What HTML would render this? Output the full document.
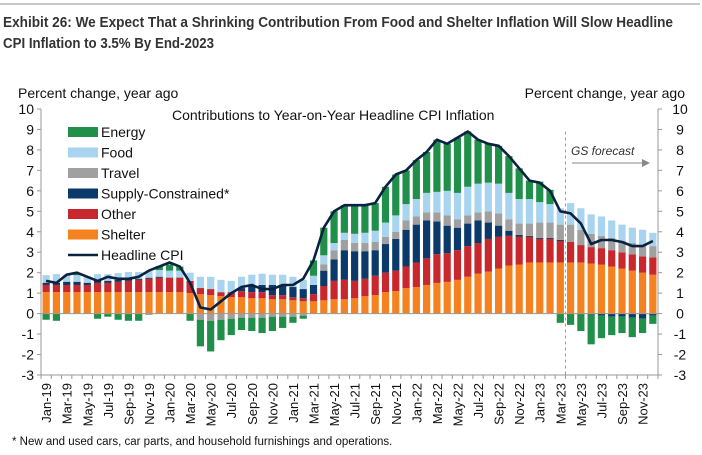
<!DOCTYPE html>
<html><head><meta charset="utf-8"><style>
body{margin:0;background:#fff;width:702px;height:450px;overflow:hidden;font-family:"Liberation Sans",sans-serif}
svg text{font-family:"Liberation Sans",sans-serif}
</style></head><body>
<svg id="c" width="702" height="450" viewBox="0 0 702 450">
<line x1="0" y1="4" x2="700" y2="4" stroke="#c8c8c8" stroke-width="2"/>
<text x="3" y="27" font-size="14.5" font-weight="bold" fill="#333" textLength="670" lengthAdjust="spacingAndGlyphs">Exhibit 26: We Expect That a Shrinking Contribution From Food and Shelter Inflation Will Slow Headline</text>
<text x="3" y="48" font-size="14.5" font-weight="bold" fill="#333" textLength="211" lengthAdjust="spacingAndGlyphs">CPI Inflation to 3.5% By End-2023</text>
<text x="18" y="98" font-size="14" fill="#111">Percent change, year ago</text>
<text x="685" y="98" font-size="14" fill="#111" text-anchor="end">Percent change, year ago</text>
<text x="172" y="120" font-size="14" fill="#111">Contributions to Year-on-Year Headline CPI Inflation</text>
<g id="bars"></g><g id="axes"></g>
<text x="571" y="155" font-size="12" font-style="italic" fill="#333">GS forecast</text>
<line x1="572" y1="163" x2="642" y2="163" stroke="#888" stroke-width="1"/>
<polygon points="642,159 650,163 642,167" fill="#888"/>
<g id="legend"></g>
<text x="12" y="445" font-size="11.5" fill="#111">* New and used cars, car parts, and household furnishings and operations.</text>
</svg>
<script>
const months=["Jan","Feb","Mar","Apr","May","Jun","Jul","Aug","Sep","Oct","Nov","Dec"];
const years=["19","20","21","22","23"];
const shelter=[1.05,1.05,1.05,1.05,1.05,1.05,1.05,1.05,1.05,1.05,1.05,1.05, 1.05,1.05,1.0,0.95,0.9,0.85,0.8,0.8,0.75,0.75,0.7,0.7, 0.65,0.6,0.6,0.65,0.7,0.7,0.75,0.85,0.9,1.05,1.1,1.25, 1.3,1.4,1.5,1.55,1.65,1.8,1.95,2.05,2.2,2.35,2.4,2.5, 2.5,2.5,2.5,2.5,2.5,2.45,2.4,2.3,2.2,2.1,2.0,1.9];
const other=[0.35,0.35,0.35,0.35,0.35,0.45,0.45,0.5,0.55,0.6,0.65,0.7, 0.7,0.7,0.6,0.3,0.3,0.2,0.25,0.3,0.3,0.3,0.2,0.2, 0.15,0.15,0.35,0.7,0.9,0.95,0.85,0.85,0.95,0.95,1.0,1.05, 1.2,1.3,1.4,1.4,1.45,1.5,1.5,1.6,1.55,1.45,1.35,1.25, 1.15,1.15,1.05,1.0,0.85,0.8,0.8,0.8,0.8,0.8,0.8,0.85];
const supply=[0.1,0.1,0.15,0.15,0.1,0.1,0.1,0.1,0.1,0.05,0.05,0.05, 0,0,0,0,0,0,0,0.15,0.3,0.35,0.5,0.5, 0.5,0.45,0.45,0.75,1.05,1.45,1.45,1.35,1.25,1.4,1.55,1.8, 1.85,1.85,1.6,1.35,1.1,1.1,1.1,0.8,0.55,0.25,0.1,0.05, 0.05,0.05,0.05,0,0,-0.05,-0.1,-0.15,-0.15,-0.2,-0.25,-0.1];
const travel=[0.03,0.03,0.03,0.03,0.03,0.03,0.03,0.03,0.03,0.03,0.03,0.03, 0.05,0.05,0,-0.3,-0.35,-0.3,-0.25,-0.2,-0.2,-0.2,-0.15,-0.15, -0.15,-0.1,0,0.3,0.45,0.5,0.4,0.4,0.4,0.35,0.35,0.45, 0.4,0.4,0.45,0.5,0.4,0.4,0.4,0.55,0.6,0.55,0.55,0.6, 0.75,0.75,0.75,0.85,0.75,0.65,0.6,0.6,0.55,0.55,0.55,0.55];
const food=[0.35,0.4,0.3,0.3,0.3,0.3,0.3,0.3,0.3,0.3,0.3,0.3, 0.3,0.3,0.4,0.55,0.6,0.6,0.55,0.55,0.55,0.55,0.5,0.5, 0.5,0.45,0.45,0.45,0.35,0.35,0.45,0.5,0.55,0.7,0.8,0.8, 0.85,0.95,1.0,1.2,1.3,1.4,1.4,1.4,1.45,1.3,1.2,1.2, 1.0,0.9,0.8,1.05,1.05,0.95,0.95,0.85,0.8,0.75,0.75,0.65];
const energy=[-0.3,-0.35,0,0.1,0,-0.25,-0.15,-0.3,-0.35,-0.35,-0.05,0.2, 0.3,0.2,-0.35,-1.3,-1.5,-1.0,-0.8,-0.6,-0.65,-0.75,-0.7,-0.55, -0.3,-0.15,0.75,1.35,1.55,1.35,1.4,1.35,1.35,1.75,2.0,1.65, 1.9,2.0,2.55,2.3,2.7,2.7,2.15,1.9,1.85,1.8,1.5,0.9, 1.0,0.7,-0.45,-0.55,-0.85,-1.45,-1.1,-0.9,-0.8,-0.95,-0.7,-0.4];
const headline=[1.6,1.5,1.9,2.0,1.8,1.6,1.8,1.7,1.7,1.8,2.1,2.3, 2.5,2.3,1.5,0.3,0.2,0.6,1.0,1.3,1.4,1.2,1.2,1.4, 1.4,1.7,2.6,4.2,5.0,5.3,5.3,5.3,5.4,6.2,6.8,7.0, 7.5,7.9,8.5,8.3,8.6,8.9,8.5,8.3,8.2,7.7,7.1,6.5, 6.4,6.0,5.0,4.9,4.4,3.4,3.6,3.6,3.5,3.3,3.3,3.55];
const yTicks=[10,9,8,7,6,5,4,3,2,1,0,-1,-2,-3];
const forecastStart=51;

const NS="http://www.w3.org/2000/svg";
const X0=41,X1=658,YT=109,YB=375,YMAX=10,YMIN=-3;
const N=headline.length, slot=(X1-X0)/N, bw=7.2;
const y=v=>YT+(YMAX-v)*(YB-YT)/(YMAX-YMIN);
const xc=i=>X0+slot*(i+0.5);
function mk(t,a,p){const e=document.createElementNS(NS,t);for(const k in a)e.setAttribute(k,a[k]);p.appendChild(e);return e;}
const series=[["shelter",shelter,"#f58220"],["other",other,"#c8282d"],["supply",supply,"#0b3a6a"],["travel",travel,"#a0a0a0"],["food",food,"#a9d4f0"],["energy",energy,"#1f8f4a"]];
const bars=document.getElementById("bars");
for(let i=0;i<N;i++){
  let pos=0,neg=0;
  for(const [nm,arr,col] of series){
    const v=arr[i]; if(!v) continue;
    let a,b; if(v>0){a=pos;b=pos+v;pos=b;}else{a=neg;b=neg+v;neg=b;}
    const r=mk("rect",{x:xc(i)-bw/2,y:y(Math.max(a,b)),width:bw,height:Math.abs(y(a)-y(b)),fill:col},bars);
    
    
  }
}
const ax=document.getElementById("axes");
const z=mk("line",{x1:X0,x2:X1,y1:y(0),y2:y(0),stroke:"#999","stroke-width":1},ax);

const fx=X0+slot*forecastStart;
const fl=mk("line",{x1:fx,x2:fx,y1:y(8.9),y2:YB,stroke:"#999","stroke-dasharray":"3,3"},ax);

let d="";for(let i=0;i<N;i++)d+=(i?"L":"M")+xc(i).toFixed(1)+","+y(headline[i]).toFixed(1);
const hl=mk("path",{d:d,fill:"none",stroke:"#0a2240","stroke-width":2.6,"stroke-linejoin":"round"},ax);

for(const s of [[X0,-1],[X1,1]]){
  const l=mk("line",{x1:s[0],x2:s[0],y1:YT,y2:YB,stroke:"#999"},ax);
  
  for(const t of yTicks){
    mk("line",{x1:s[0],x2:s[0]+4*s[1],y1:y(t),y2:y(t),stroke:"#999"},ax);
    const tx=mk("text",{x:s[1]<0?s[0]-7:s[0]+22,y:y(t)+5,"font-size":14,"text-anchor":s[1]<0?"end":"middle",fill:"#111"},ax);
    tx.textContent=t;
    
    
  }
}
const xa=mk("line",{x1:X0,x2:X1,y1:YB,y2:YB,stroke:"#999"},ax);

for(let i=0;i<=N;i++)mk("line",{x1:X0+slot*i,x2:X0+slot*i,y1:YB,y2:YB+4,stroke:"#999"},ax);
for(let i=0;i<N;i+=2){
  const lb=months[i%12]+"-"+years[Math.floor(i/12)];
  const t=mk("text",{x:0,y:0,"font-size":13,"text-anchor":"end",fill:"#111",transform:"translate("+(xc(i)+5)+","+(YB+8)+") rotate(-90)"},ax);
  t.textContent=lb;
  
  
}
const lg=document.getElementById("legend");
const items=[["Energy","#1f8f4a"],["Food","#a9d4f0"],["Travel","#a0a0a0"],["Supply-Constrained*","#0b3a6a"],["Other","#c8282d"],["Shelter","#f58220"]];
items.forEach((it,k)=>{
  const yy=132+k*20.5;
  const r=mk("rect",{x:68,y:yy-5,width:30,height:10,fill:it[1]},lg);
  
  const t=mk("text",{x:101,y:yy+5,"font-size":14,fill:"#111"},lg);t.textContent=it[0];
  
});
const ly=132+6*20.5;
const ll=mk("line",{x1:68,x2:98,y1:ly,y2:ly,stroke:"#0a2240","stroke-width":2.6},lg);

const lt=mk("text",{x:101,y:ly+5,"font-size":14,fill:"#111"},lg);lt.textContent="Headline CPI";

</script>
</body></html>
